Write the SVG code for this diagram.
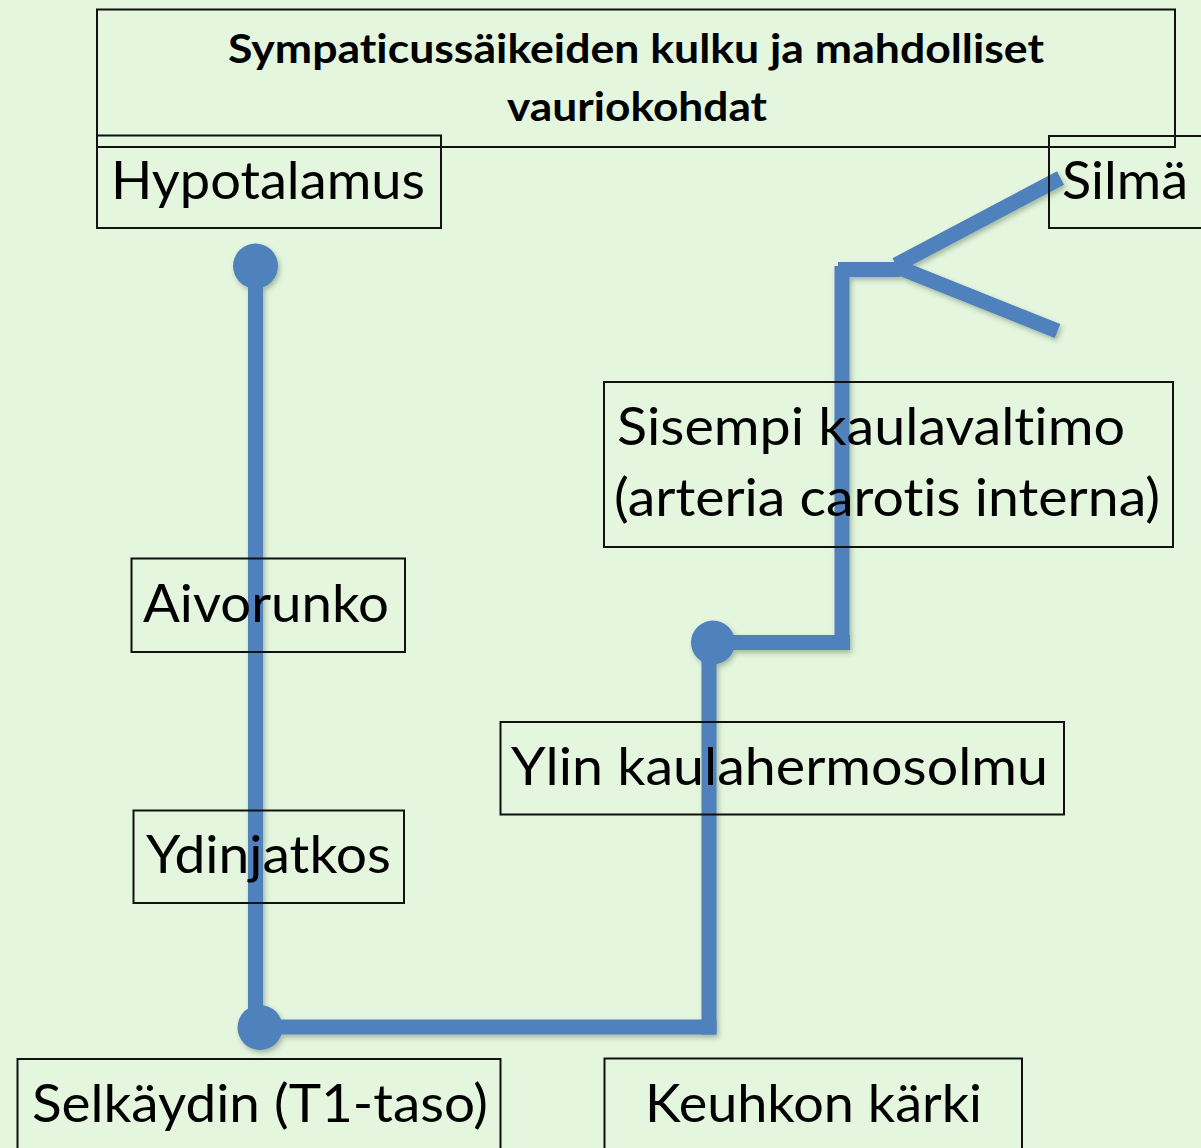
<svg xmlns="http://www.w3.org/2000/svg" width="1201" height="1148" viewBox="0 0 1201 1148">
<defs>
<filter id="sh" x="-20%" y="-20%" width="140%" height="140%">
<feDropShadow dx="2" dy="3" stdDeviation="2.5" flood-color="#2f4a2a" flood-opacity="0.35"/>
</filter>
<style>
.box{fill:none;stroke:#111;stroke-width:2}
.lbl{font-family:Lato,"Noto Sans","Liberation Sans",sans-serif;font-size:52px;fill:#000;font-variant-ligatures:none}
.ttl{font-family:Lato,"Noto Sans","Liberation Sans",sans-serif;font-size:40px;font-weight:bold;fill:#000;font-variant-ligatures:none}
.ln{stroke:#4f81bd;stroke-width:15;fill:none;stroke-linecap:butt}
.dot{fill:#4f81bd}
</style>
</defs>
<rect x="0" y="0" width="1201" height="1148" fill="#e5f6df"/>

<g id="connectors" filter="url(#sh)">
<line class="ln" x1="255.5" y1="266" x2="255.5" y2="1027"/>
<line class="ln" x1="260" y1="1027" x2="716.5" y2="1027"/>
<line class="ln" x1="709" y1="1034.5" x2="709" y2="643"/>
<line class="ln" x1="713" y1="642.5" x2="850" y2="642.5"/>
<line class="ln" x1="842" y1="650" x2="842" y2="266"/>
<line class="ln" x1="838" y1="269.5" x2="900" y2="269.5"/>
<line class="ln" x1="896" y1="265" x2="1060.5" y2="178"/>
<line class="ln" x1="897.5" y1="267" x2="1057.5" y2="331"/>
<circle class="dot" cx="255.5" cy="266" r="22.5"/>
<circle class="dot" cx="260" cy="1027.5" r="22.5"/>
<circle class="dot" cx="713" cy="642.5" r="22"/>
</g>

<g id="title">
<rect class="box" x="97" y="9.5" width="1078" height="137.5"/>
<text class="ttl" x="228" y="63" textLength="816" lengthAdjust="spacingAndGlyphs">Sympaticussäikeiden kulku ja mahdolliset</text>
<text class="ttl" x="507" y="121" textLength="260" lengthAdjust="spacingAndGlyphs">vauriokohdat</text>
</g>

<g id="hypotalamus">
<rect class="box" x="97" y="135.5" width="344" height="92.5"/>
<text class="lbl" x="111" y="199" textLength="314" lengthAdjust="spacingAndGlyphs">Hypotalamus</text>
</g>

<g id="silma">
<rect class="box" x="1049" y="136" width="160" height="92"/>
<text class="lbl" x="1062" y="199" textLength="126" lengthAdjust="spacingAndGlyphs">Silmä</text>
</g>

<g id="sisempi">
<rect class="box" x="604" y="382" width="569" height="165"/>
<text class="lbl" x="617" y="445" textLength="508" lengthAdjust="spacingAndGlyphs">Sisempi kaulavaltimo</text>
<text class="lbl" x="614" y="516" textLength="546" lengthAdjust="spacingAndGlyphs">(arteria carotis interna)</text>
</g>

<g id="aivorunko">
<rect class="box" x="131.5" y="558.5" width="273.5" height="93.5"/>
<text class="lbl" x="143" y="622" textLength="246" lengthAdjust="spacingAndGlyphs">Aivorunko</text>
</g>

<g id="ylin">
<rect class="box" x="500.5" y="722" width="563.5" height="92.5"/>
<text class="lbl" x="511" y="785" textLength="537" lengthAdjust="spacingAndGlyphs">Ylin kaulahermosolmu</text>
</g>

<g id="ydinjatkos">
<rect class="box" x="133.5" y="810.5" width="270.5" height="92.5"/>
<text class="lbl" x="146" y="873" textLength="245" lengthAdjust="spacingAndGlyphs">Ydinjatkos</text>
</g>

<g id="selkaydin">
<rect class="box" x="17.5" y="1059" width="483" height="100"/>
<text class="lbl" x="32" y="1122" textLength="456" lengthAdjust="spacingAndGlyphs">Selkäydin (T1-taso)</text>
</g>

<g id="keuhkon">
<rect class="box" x="604.5" y="1058.5" width="417.5" height="100"/>
<text class="lbl" x="645" y="1122" textLength="337" lengthAdjust="spacingAndGlyphs">Keuhkon kärki</text>
</g>
</svg>
